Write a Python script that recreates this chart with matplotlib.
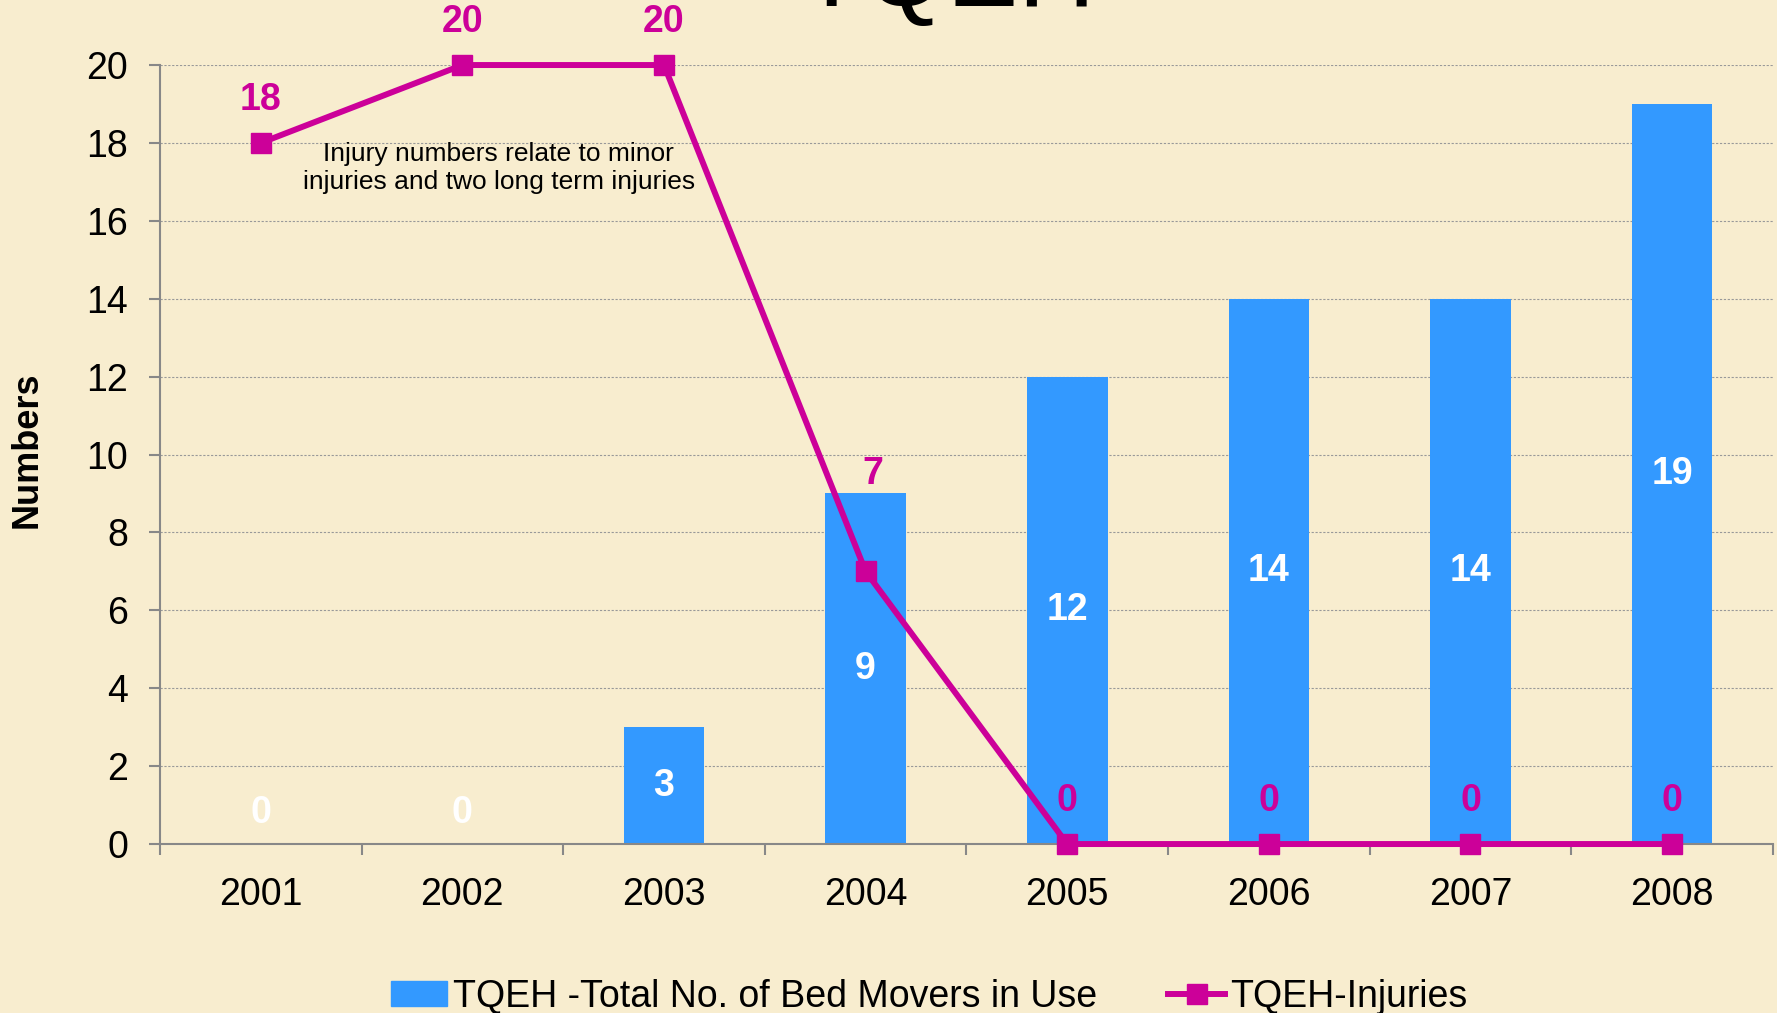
import matplotlib as mpl
mpl.use("Agg")
import matplotlib.pyplot as plt
import numpy as np
from matplotlib.lines import Line2D
from matplotlib.patches import Patch

years = ["2001", "2002", "2003", "2004", "2005", "2006", "2007", "2008"]
bed_movers = [0, 0, 3, 9, 12, 14, 14, 19]
injuries = [18, 20, 20, 7, 0, 0, 0, 0]
# vertical offset (points) of the injury labels above the markers
injury_label_dy = [31, 31, 31, 70, 31, 31, 31, 31]

blue = "#3399FF"
magenta = "#CC0099"
paper = "#F8EDCF"

plt.rcParams["font.family"] = ["Liberation Sans", "DejaVu Sans"]

fig = plt.figure(figsize=(17.77, 10.13), dpi=100, facecolor=paper)
ax = fig.add_axes([0.0900, 0.1668, 0.9077, 0.7690])
ax.set_facecolor(paper)

ind = np.arange(len(years))
ax.bar(ind, bed_movers, 0.4, color=blue, zorder=2)
ax.plot(ind, injuries, color=magenta, lw=4.3, marker="s", ms=15,
        zorder=4, clip_on=False)

# bar labels (white, in the middle of each bar)
for i, v in enumerate(bed_movers):
    y = v / 2 if v > 0 else 0.8
    ax.text(i, y, str(v), color="white", fontsize=27, fontweight="bold",
            ha="center", va="center", zorder=3)

# injury labels
for i, v in enumerate(injuries):
    dx = 5 if i == 3 else 0
    ax.annotate(str(v), (i, v), xytext=(dx, injury_label_dy[i]),
                textcoords="offset points", color=magenta, fontsize=27,
                fontweight="bold", ha="center", va="center",
                annotation_clip=False, zorder=5)

ax.text(1.18, 17.35, "Injury numbers relate to minor\ninjuries and two long term injuries",
        fontsize=19, ha="center", va="center", linespacing=1.2, zorder=5)

ax.set_xlim(-0.5, len(years) - 0.5)
ax.set_ylim(0, 20)
ax.set_yticks(np.arange(0, 21, 2))
ax.yaxis.grid(True, color="#999999", ls=(0, (2, 1.5)), lw=0.8, zorder=0)
ax.set_axisbelow(True)

ax.set_xticks(np.arange(-0.5, len(years), 1))
ax.set_xticklabels([])
ax.set_xticks(ind, minor=True)
ax.set_xticklabels(years, minor=True)
ax.tick_params(axis="x", which="major", length=8, width=1.5, color="#888888")
ax.tick_params(axis="x", which="minor", length=0, pad=24, labelsize=27)
ax.tick_params(axis="y", length=8, width=1.5, color="#888888", pad=15, labelsize=27)

for s in ["top", "right"]:
    ax.spines[s].set_visible(False)
for s in ["left", "bottom"]:
    ax.spines[s].set_color("#888888")
    ax.spines[s].set_linewidth(1.5)

fig.text(0.015, 0.556, "Numbers", rotation=90, fontsize=26, fontweight="bold",
         ha="center", va="center")
# title sits mostly above the top edge, as in the original slide
fig.text(0.533, 0.9941, "TQEH", fontsize=77, ha="center", va="baseline")

handles = [Patch(color=blue),
           Line2D([], [], color=magenta, lw=4.3, marker="s", ms=15)]
labels = ["TQEH -Total No. of Bed Movers in Use", "TQEH-Injuries"]
fig.legend(handles, labels, loc="center", bbox_to_anchor=(0.523, 0.016),
           ncol=2, frameon=False, fontsize=27, handlelength=1.5,
           handleheight=0.65, handletextpad=0.15, columnspacing=1.9)

fig.savefig("out.png", dpi=100, facecolor=paper)
